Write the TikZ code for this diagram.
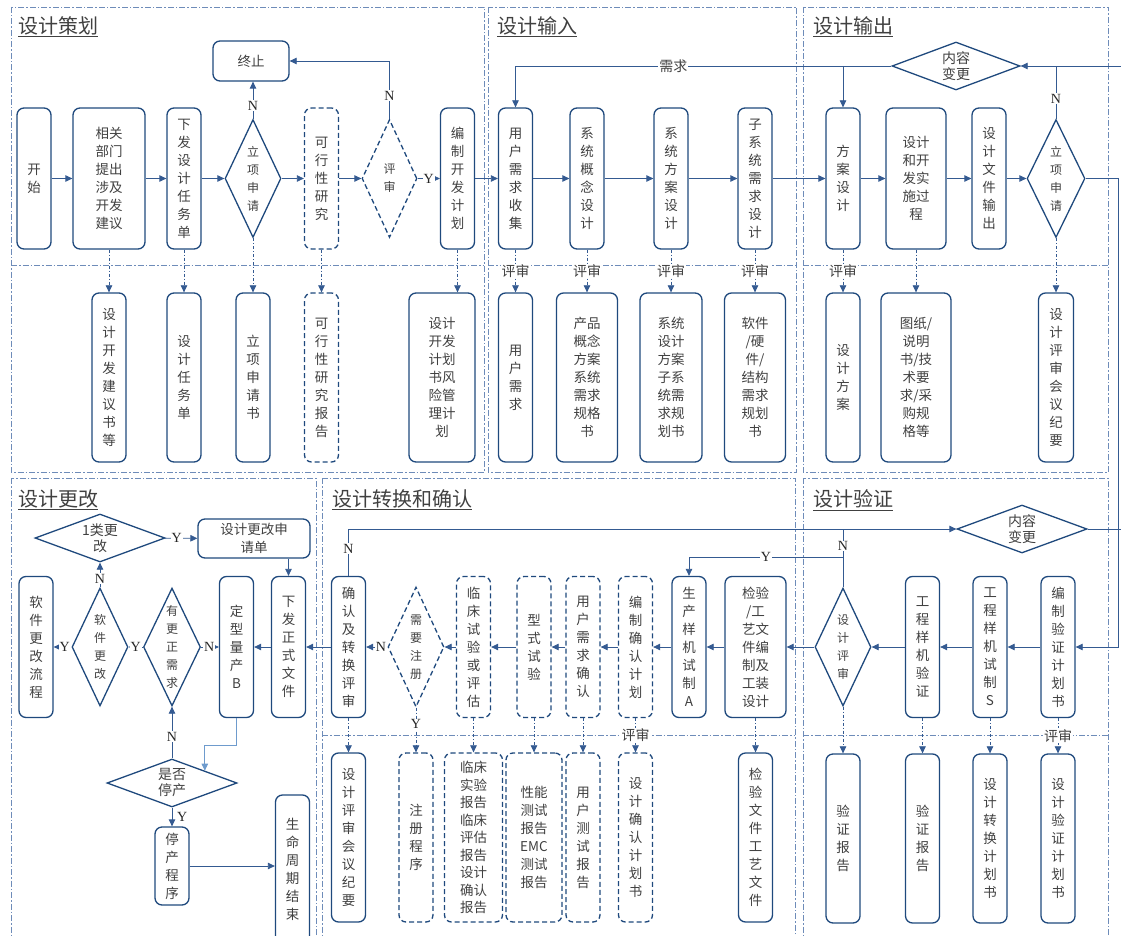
\documentclass[tikz,border=0pt]{standalone}
\usepackage{fontspec}
\setmainfont{Noto Sans CJK SC}
\newfontfamily\ynfont{Liberation Serif}
\usetikzlibrary{arrows.meta,shapes.geometric}
\definecolor{navy}{RGB}{31,73,125}
\definecolor{wire}{RGB}{52,90,145}
\definecolor{pale}{RGB}{110,140,185}
\definecolor{soft}{RGB}{110,155,205}
\definecolor{ink}{RGB}{64,64,64}

\begin{document}
\begin{tikzpicture}[->,>={Triangle[length=7pt,width=6.5pt]},x=1pt,y=-1pt,wire,line width=0.8pt,
    main box/.style={rectangle,rounded corners=7pt,draw=navy,line width=1.3pt,align=center,inner sep=0pt,text=ink,font=\fontsize{13.5}{18}\selectfont,minimum width=34pt,minimum height=141pt},
    doc box/.style={main box,minimum height=169pt},
    dashy/.style={dash pattern=on 5pt off 3pt},
    dec/.style={diamond,draw=navy,line width=1.3pt,inner sep=0pt,aspect=0.47,align=center,text=ink,font=\fontsize{12}{18}\selectfont,minimum width=56pt,minimum height=118pt},
    wide dec/.style={dec,aspect=2.7,font=\fontsize{14}{16}\selectfont,minimum width=130pt,minimum height=48pt},
    head/.style={anchor=west,inner sep=0pt,text=ink,font=\fontsize{20}{22}\selectfont},
    tag/.style={fill=white,inner sep=1pt,text=ink,font=\fontsize{14}{16}\selectfont},
    yn/.style={fill=white,inner sep=0.8pt,text=black!85,font=\ynfont\fontsize{14}{16}\selectfont},
    doc line/.style={dash pattern=on 3pt off 2pt on 1pt off 2pt,line width=0.7pt},
    frame line/.style={-,draw=pale,line width=0.8pt,dash pattern=on 6pt off 2pt on 1.5pt off 2pt}]
    \useasboundingbox (0,0) rectangle (1121,936);
    \clip (0,0) rectangle (1121,936);

    \draw[frame line] (11,7) rectangle (484,472) (11,265) -- (484,265);
    \draw[frame line] (488,7) rectangle (796,472) (488,265) -- (796,265);
    \draw[frame line] (803,7) rectangle (1108,472) (803,265) -- (1108,265);
    \draw[frame line] (11,478) rectangle (316,945);
    \draw[frame line] (322,478) rectangle (795,945) (322,735) -- (795,735);
    \draw[frame line] (803,478) rectangle (1108,945) (803,735) -- (1108,735);

    \node[head] (t1) at (18,27) {\underline{设计策划}};
    \node[head] (t2) at (497,27) {\underline{设计输入}};
    \node[head] (t3) at (813,27) {\underline{设计输出}};
    \node[head] (t4) at (18,500) {\underline{设计更改}};
    \node[head] (t5) at (332,500) {\underline{设计转换和确认}};
    \node[head] (t6) at (813,500) {\underline{设计验证}};

    \node[main box] (1) at (34,178.5) {开\\始};
    \node[main box,minimum width=72pt] (2) at (109,178.5) {相关\\部门\\提出\\涉及\\开发\\建议};
    \node[main box] (3) at (184,178.5) {下\\发\\设\\计\\任\\务\\单};
    \node[dec] (4) at (253,178.5) {立\\项\\申\\请};
    \node[main box,dashy] (5) at (321.5,178.5) {可\\行\\性\\研\\究};
    \node[dec,dashy,minimum width=55pt] (6) at (389.5,178.5) {评\\审};
    \node[main box] (7) at (457.5,178.5) {编\\制\\开\\发\\计\\划};
    \node[main box,minimum width=76pt,minimum height=40pt] (8) at (251,61) {终止};
    \node[doc box] (9) at (109,377.5) {设\\计\\开\\发\\建\\议\\书\\等};
    \node[doc box] (10) at (184,377.5) {设\\计\\任\\务\\单};
    \node[doc box] (11) at (253,377.5) {立\\项\\申\\请\\书};
    \node[doc box,dashy] (12) at (321.5,377.5) {可\\行\\性\\研\\究\\报\\告};
    \node[doc box,minimum width=66pt] (13) at (442,377.5) {设计\\开发\\计划\\书风\\险管\\理计\\划};

    \node[main box] (14) at (515.5,178.5) {用\\户\\需\\求\\收\\集};
    \node[main box] (15) at (587,178.5) {系\\统\\概\\念\\设\\计};
    \node[main box] (16) at (671,178.5) {系\\统\\方\\案\\设\\计};
    \node[main box] (17) at (755,178.5) {子\\系\\统\\需\\求\\设\\计};
    \node[doc box] (18) at (515.5,377.5) {用\\户\\需\\求};
    \node[doc box,minimum width=61pt] (19) at (587,377.5) {产品\\概念\\方案\\系统\\需求\\规格\\书};
    \node[doc box,minimum width=62pt] (20) at (671,377.5) {系统\\设计\\方案\\子系\\统需\\求规\\划书};
    \node[doc box,minimum width=61pt] (21) at (755,377.5) {软件\\/硬\\件/\\结构\\需求\\规划\\书};

    \node[main box] (22) at (843,178.5) {方\\案\\设\\计};
    \node[main box,minimum width=60pt] (23) at (916,178.5) {设计\\和开\\发实\\施过\\程};
    \node[main box] (24) at (989,178.5) {设\\计\\文\\件\\输\\出};
    \node[dec,minimum width=58pt] (25) at (1056,178.5) {立\\项\\申\\请};
    \node[wide dec,minimum width=128pt] (26) at (956,66) {内容\\变更};
    \node[doc box] (27) at (843,377.5) {设\\计\\方\\案};
    \node[doc box,minimum width=70pt] (28) at (916,377.5) {图纸/\\说明\\书/技\\术要\\求/采\\购规\\格等};
    \node[doc box,minimum width=35pt] (29) at (1056,377.5) {设\\计\\评\\审\\会\\议\\纪\\要};

    \node[wide dec] (30) at (100,538) {1类更\\改};
    \node[main box,minimum width=112pt,minimum height=39pt] (31) at (254,538.5) {设计更改申\\请单};
    \node[main box] (32) at (288.5,647) {下\\发\\正\\式\\文\\件};
    \node[main box] (33) at (236.5,647) {定\\型\\量\\产\\B};
    \node[dec,minimum width=57pt] (34) at (172,647) {有\\更\\正\\需\\求};
    \node[dec] (35) at (100,647) {软\\件\\更\\改};
    \node[main box] (36) at (36,647) {软\\件\\更\\改\\流\\程};
    \node[wide dec] (37) at (172,783) {是否\\停产};
    \node[main box,minimum height=78pt] (38) at (172,866) {停\\产\\程\\序};
    \node[main box,minimum height=148pt] (39) at (292.5,869) {生\\命\\周\\期\\结\\束};

    \node[main box] (40) at (348.5,647) {确\\认\\及\\转\\换\\评\\审};
    \node[dec,dashy,minimum height=120pt] (41) at (416,647) {需\\要\\注\\册};
    \node[main box,dashy] (42) at (473.5,647) {临\\床\\试\\验\\或\\评\\估};
    \node[main box,dashy] (43) at (534,647) {型\\式\\试\\验};
    \node[main box,dashy] (44) at (583,647) {用\\户\\需\\求\\确\\认};
    \node[main box,dashy] (45) at (635.5,647) {编\\制\\确\\认\\计\\划};
    \node[main box] (46) at (689,647) {生\\产\\样\\机\\试\\制\\A};
    \node[main box,minimum width=61pt] (47) at (755.5,647) {检验\\/工\\艺文\\件编\\制及\\工装\\设计};
    \node[doc box] (48) at (348.5,837.5) {设\\计\\评\\审\\会\\议\\纪\\要};
    \node[doc box,dashy] (49) at (416,837.5) {注\\册\\程\\序};
    \node[doc box,dashy,minimum width=58pt,font=\fontsize{13.5}{17.5}\selectfont] (50) at (473.5,837.5) {临床\\实验\\报告\\临床\\评估\\报告\\设计\\确认\\报告};
    \node[doc box,dashy,minimum width=56pt] (51) at (534,837.5) {性能\\测试\\报告\\EMC\\测试\\报告};
    \node[doc box,dashy] (52) at (583,837.5) {用\\户\\测\\试\\报\\告};
    \node[doc box,dashy] (53) at (635.5,837.5) {设\\计\\确\\认\\计\\划\\书};
    \node[doc box] (54) at (755.5,837.5) {检\\验\\文\\件\\工\\艺\\文\\件};

    \node[wide dec] (55) at (1022,529) {内容\\变更};
    \node[dec] (56) at (843,647) {设\\计\\评\\审};
    \node[main box] (57) at (922.5,647) {工\\程\\样\\机\\验\\证};
    \node[main box] (58) at (990,647) {工\\程\\样\\机\\试\\制\\S};
    \node[main box] (59) at (1058,647) {编\\制\\验\\证\\计\\划\\书};
    \node[doc box] (60) at (843,838.5) {验\\证\\报\\告};
    \node[doc box] (61) at (922.5,838.5) {验\\证\\报\\告};
    \node[doc box] (62) at (990,838.5) {设\\计\\转\\换\\计\\划\\书};
    \node[doc box] (63) at (1058,838.5) {设\\计\\验\\证\\计\\划\\书};

    \coordinate (e1) at (1125,66);
    \coordinate (e2) at (1125,529);
    \coordinate (r1) at (1118,178.5);
    \coordinate (y1) at (843,557);

    \path (1) edge (2) (2) edge (3) (3) edge (4) (4) edge (5) (5) edge (6)
        (6) edge node[yn] {Y} (7) (7) edge (14) (14) edge (15) (15) edge (16) (16) edge (17)
        (17) edge (22) (22) edge (23) (23) edge (24) (24) edge (25);
    \draw (4) -- node[yn,pos=0.35] {N} (4 |- 8.south);
    \draw (6) |- node[yn,pos=0.2] {N} (8);
    \draw[-] (25) -- node[yn,pos=0.38] {N} (25 |- 26);
    \draw (e1) -- (26);
    \draw (26) -| node[tag,pos=0.29] {需求} (14);
    \draw (22 |- 26) -- (22);
    \draw (25) -- (r1) |- (59);

    \path[doc line] (2) edge (9) (3) edge (10) (4) edge (11) (5) edge (12) (7) edge (7 |- 13.north)
        (14) edge node[tag] {评审} (18) (15) edge node[tag] {评审} (19)
        (16) edge node[tag] {评审} (20) (17) edge node[tag] {评审} (21)
        (22) edge node[tag] {评审} (27) (23) edge (28) (25) edge (29);

    \path (59) edge (58) (58) edge (57) (57) edge (56) (56) edge (47) (47) edge (46)
        (46) edge (45) (45) edge (44) (44) edge (43) (43) edge (42) (42) edge (41)
        (41) edge node[yn,pos=0.3] {N} (40) (40) edge (32) (32) edge (33)
        (34) edge node[yn,pos=0.45] {N} (33) (34) edge node[yn] {Y} (35)
        (35) edge node[yn,pos=0.37] {Y} (36) (35) edge node[yn,pos=0.35] {N} (30)
        (30) edge node[yn,pos=0.36] {Y} (31)
        (37) edge node[yn,pos=0.42] {N} (34) (37) edge node[yn,right=4pt,fill=none] {Y} (38);
    \draw (31.south -| 32) -- (32);
    \draw[soft] (33.south) -- ++(0,27) -| (37.north east);
    \draw (38) -- (38 -| 39.west);
    \draw (40) |- node[yn,pos=0.29] {N} (55);
    \draw[-] (56) -- node[yn,pos=0.71] {N} (56 |- 55);
    \draw (y1) -| node[yn,pos=0.25] {Y} (46);
    \draw[-] (55) -- (e2);

    \path[doc line] (40) edge (48) (41) edge node[yn,pos=0.37] {Y} (49) (42) edge (50)
        (43) edge (51) (44) edge (52) (45) edge node[tag] {评审} (53) (47) edge (54)
        (56) edge (60) (57) edge (61) (58) edge (62) (59) edge node[tag] {评审} (63);
\end{tikzpicture}
\end{document}
